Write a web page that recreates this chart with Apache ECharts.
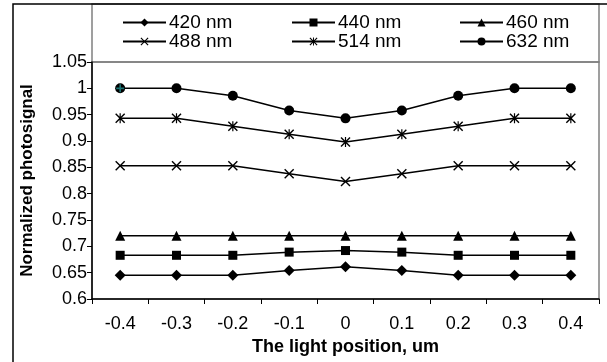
<!DOCTYPE html>
<html>
<head>
<meta charset="utf-8">
<script src="https://cdn.jsdelivr.net/npm/echarts@6/dist/echarts.min.js"></script>
<style>
  html, body { margin: 0; padding: 0; background: #fff; }
  #chart { width: 607px; height: 362px; }
</style>
</head>
<body>
<div id="chart"></div>
<script>
let positions = ['-0.4', '-0.3', '-0.2', '-0.1', '0', '0.1', '0.2', '0.3', '0.4']
let yTicks = { min: 0.6, max: 1.05, step: 0.05 }

let s420 = [0.645, 0.645, 0.645, 0.654, 0.661, 0.654, 0.645, 0.645, 0.645]
let s440 = [0.683, 0.683, 0.683, 0.689, 0.692, 0.689, 0.683, 0.683, 0.683]
let s460 = [0.72, 0.72, 0.72, 0.72, 0.72, 0.72, 0.72, 0.72, 0.72]
let s488 = [0.853, 0.853, 0.853, 0.838, 0.823, 0.838, 0.853, 0.853, 0.853]
let s514 = [0.943, 0.943, 0.928, 0.913, 0.898, 0.913, 0.928, 0.943, 0.943]
let s632 = [1.0, 1.0, 0.986, 0.958, 0.943, 0.958, 0.986, 1.0, 1.0]

let names = ['420 nm', '440 nm', '460 nm', '488 nm', '514 nm', '632 nm']

// X shaped marker and asterisk as filled paths
let xPath = 'path://M0,1L1,0L5,4L9,0L10,1L6,5L10,9L9,10L5,6L1,10L0,9L4,5Z'
let starPath = 'path://M0,1L1,0L5,4L9,0L10,1L6,5L10,9L9,10L5,6L1,10L0,9L4,5Z M4.4,0L5.6,0L5.6,10L4.4,10Z'
let plusPath = 'path://M4,0L6,0L6,4L10,4L10,6L6,6L6,10L4,10L4,6L0,6L0,4L4,4Z'

let font = 'Liberation Sans, Arial, sans-serif'

function makeLine(name, data, symbol, size) {
    return {
        name: name,
        type: 'line',
        data: data,
        symbol: symbol,
        symbolSize: size,
        itemStyle: { color: '#000' },
        lineStyle: { color: '#000', width: 1.5 },
        emphasis: { disabled: true },
        z: 3
    }
}

// legend boxes placed one by one, 3 columns x 2 rows
let legendLeft = [122, 291, 459]
let legendTop = [13, 32]
let legends = names.map(function (n, i) {
    return {
        data: [n],
        left: legendLeft[i % 3],
        top: legendTop[Math.floor(i / 3)],
        itemWidth: 43,
        itemHeight: 10,
        itemGap: 0,
        padding: 0,
        textStyle: { fontFamily: font, fontSize: 19, color: '#000', padding: [0, 0, 0, -2] }
    }
})

let chart = echarts.init(document.getElementById('chart'))

chart.setOption({
    animation: false,
    backgroundColor: '#fff',
    legend: legends,
    grid: {
        left: 92, right: 8, top: 62, bottom: 63,
        show: true,
        borderColor: '#808080',
        borderWidth: 1.5
    },
    graphic: [
        {
            type: 'rect',
            shape: { x: 92, y: 4, width: 507, height: 58 },
            style: { fill: 'none', stroke: '#808080', lineWidth: 1.5 },
            z: -1
        },
        {
            type: 'rect',
            shape: { x: 13, y: 4, width: 700, height: 400 },
            style: { fill: 'none', stroke: '#000', lineWidth: 1.5 },
            z: 0
        }
    ],
    xAxis: {
        type: 'category',
        data: positions,
        boundaryGap: true,
        name: 'The light position, um',
        nameLocation: 'middle',
        nameGap: 37,
        nameTextStyle: { fontFamily: font, fontSize: 18, fontWeight: 'bold', color: '#000' },
        axisLine: { lineStyle: { color: '#000', width: 1.5 } },
        axisTick: { show: true, length: 5, lineStyle: { color: '#000' } },
        axisLabel: { fontFamily: font, fontSize: 18, color: '#000', margin: 16 },
        splitLine: { show: false }
    },
    yAxis: {
        type: 'value',
        min: yTicks.min,
        max: yTicks.max,
        interval: yTicks.step,
        name: 'Normalized photosignal',
        nameLocation: 'middle',
        nameGap: 56,
        nameTextStyle: { fontFamily: font, fontSize: 17, fontWeight: 'bold', color: '#000' },
        axisLine: { show: true, lineStyle: { color: '#000', width: 1.5 } },
        axisTick: { show: true, length: 5, lineStyle: { color: '#000' } },
        axisLabel: { fontFamily: font, fontSize: 18, color: '#000', margin: 5 },
        splitLine: { show: false }
    },
    series: [
        makeLine('420 nm', s420, 'diamond', 11),
        makeLine('440 nm', s440, 'rect', 9),
        makeLine('460 nm', s460, 'triangle', 10),
        makeLine('488 nm', s488, xPath, 10),
        makeLine('514 nm', s514, starPath, 10),
        makeLine('632 nm', s632, 'circle', 10),
        {
            name: 'mark',
            type: 'scatter',
            data: [[positions[0], s632[0]]],
            symbol: plusPath,
            symbolSize: 8,
            itemStyle: { color: '#1f8f8f' },
            z: 5
        }
    ]
})
</script>
</body>
</html>
